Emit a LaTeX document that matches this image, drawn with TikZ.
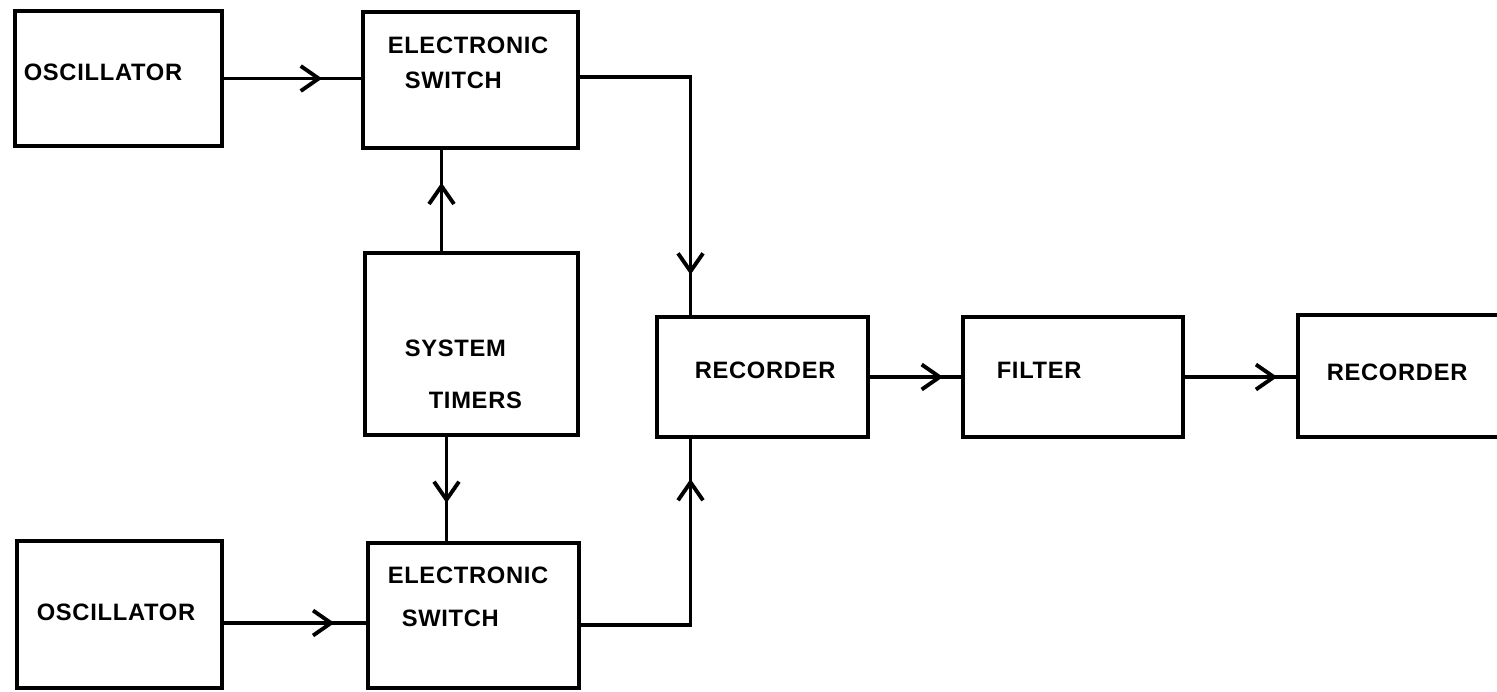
\documentclass[tikz,border=0pt]{standalone}
\usepackage{fontspec}
\newfontfamily\lblfont[LetterSpace=3]{Liberation Sans}
\usetikzlibrary{arrows.meta,decorations.markings}

\begin{document}
\begin{tikzpicture}[x=0.02cm, y=-0.02cm, line width=2pt,
    blk/.style={draw, line width=2pt, inner sep=0pt, outer sep=0pt, minimum width=#1},
    lbl/.style={font=\lblfont\bfseries\fontsize{13.5}{15}\selectfont, anchor=west, inner sep=0pt},
    flow/.style={postaction={decorate, decoration={markings,
        mark=at position #1 with {\arrow{Straight Barb[length=0.36cm, width=0.5cm, line width=2.2pt]}}}}}]
    \useasboundingbox (0,0) rectangle (1497,691);

    % --- Blocks ---
    \node[blk=4.14cm, minimum height=2.70cm] (osc1) at (118.5,78.5) {};
    \node[blk=4.30cm, minimum height=2.72cm] (sw1)  at (470.5,80) {};
    \node[blk=4.26cm, minimum height=3.64cm] (tim)  at (471.5,344) {};
    \node[blk=4.22cm, minimum height=2.40cm] (rec1) at (762.5,377) {};
    \node[blk=4.40cm, minimum height=2.40cm] (filt) at (1073,377) {};
    \node[blk=4.44cm, minimum height=2.44cm] (rec2) at (1409,376) {};
    \node[blk=4.10cm, minimum height=2.94cm] (osc2) at (119.5,614.5) {};
    \node[blk=4.22cm, minimum height=2.90cm] (sw2)  at (473.5,615.5) {};

    % --- Block texts ---
    \node[lbl] (t-osc1) at (22,72) {OSCILLATOR};
    \node[lbl] (t-sw1a) at (386,45) {ELECTRONIC};
    \node[lbl] (t-sw1b) at (403,80) {SWITCH};
    \node[lbl] (t-tima) at (403,348) {SYSTEM};
    \node[lbl] (t-timb) at (427,400) {TIMERS};
    \node[lbl] (t-rec1) at (693,370) {RECORDER};
    \node[lbl] (t-filt) at (995,370) {FILTER};
    \node[lbl] (t-rec2) at (1325,372) {RECORDER};
    \node[lbl] (t-osc2) at (35,612) {OSCILLATOR};
    \node[lbl] (t-sw2a) at (386,575) {ELECTRONIC};
    \node[lbl] (t-sw2b) at (400,618) {SWITCH};

    % --- Connector end points ---
    \coordinate (o2out) at ([yshift=-0.17cm]osc2.east);
    \coordinate (tup)   at ([xshift=-0.6cm]tim.north);
    \coordinate (tdn)   at ([xshift=-0.5cm]tim.south);
    \coordinate (s1out) at ([yshift=0.06cm]sw1.east);
    \coordinate (s2out) at ([yshift=-0.19cm]sw2.east);
    \coordinate (rin)   at ([xshift=-1.44cm]rec1.north);
    \coordinate (rinb)  at ([xshift=-1.44cm]rec1.south);

    % --- Connectors ---
    \draw[flow=0.71] (osc1.east) -- (osc1.east -| sw1.west);
    \draw[flow=0.77] (o2out) -- (o2out -| sw2.west);
    \draw[flow=0.67] (tup) -- (tup |- sw1.south);
    \draw[flow=0.63] (tdn) -- (tdn |- sw2.north);
    \draw[flow=0.88] (s1out) -| (rin);
    \draw[flow=0.86] (s2out) -| (rinb);
    \draw[flow=0.79] (rec1.east) -- (filt.west);
    \draw[flow=0.82] (filt.east) -- (filt.east -| rec2.west);
\end{tikzpicture}
\end{document}
